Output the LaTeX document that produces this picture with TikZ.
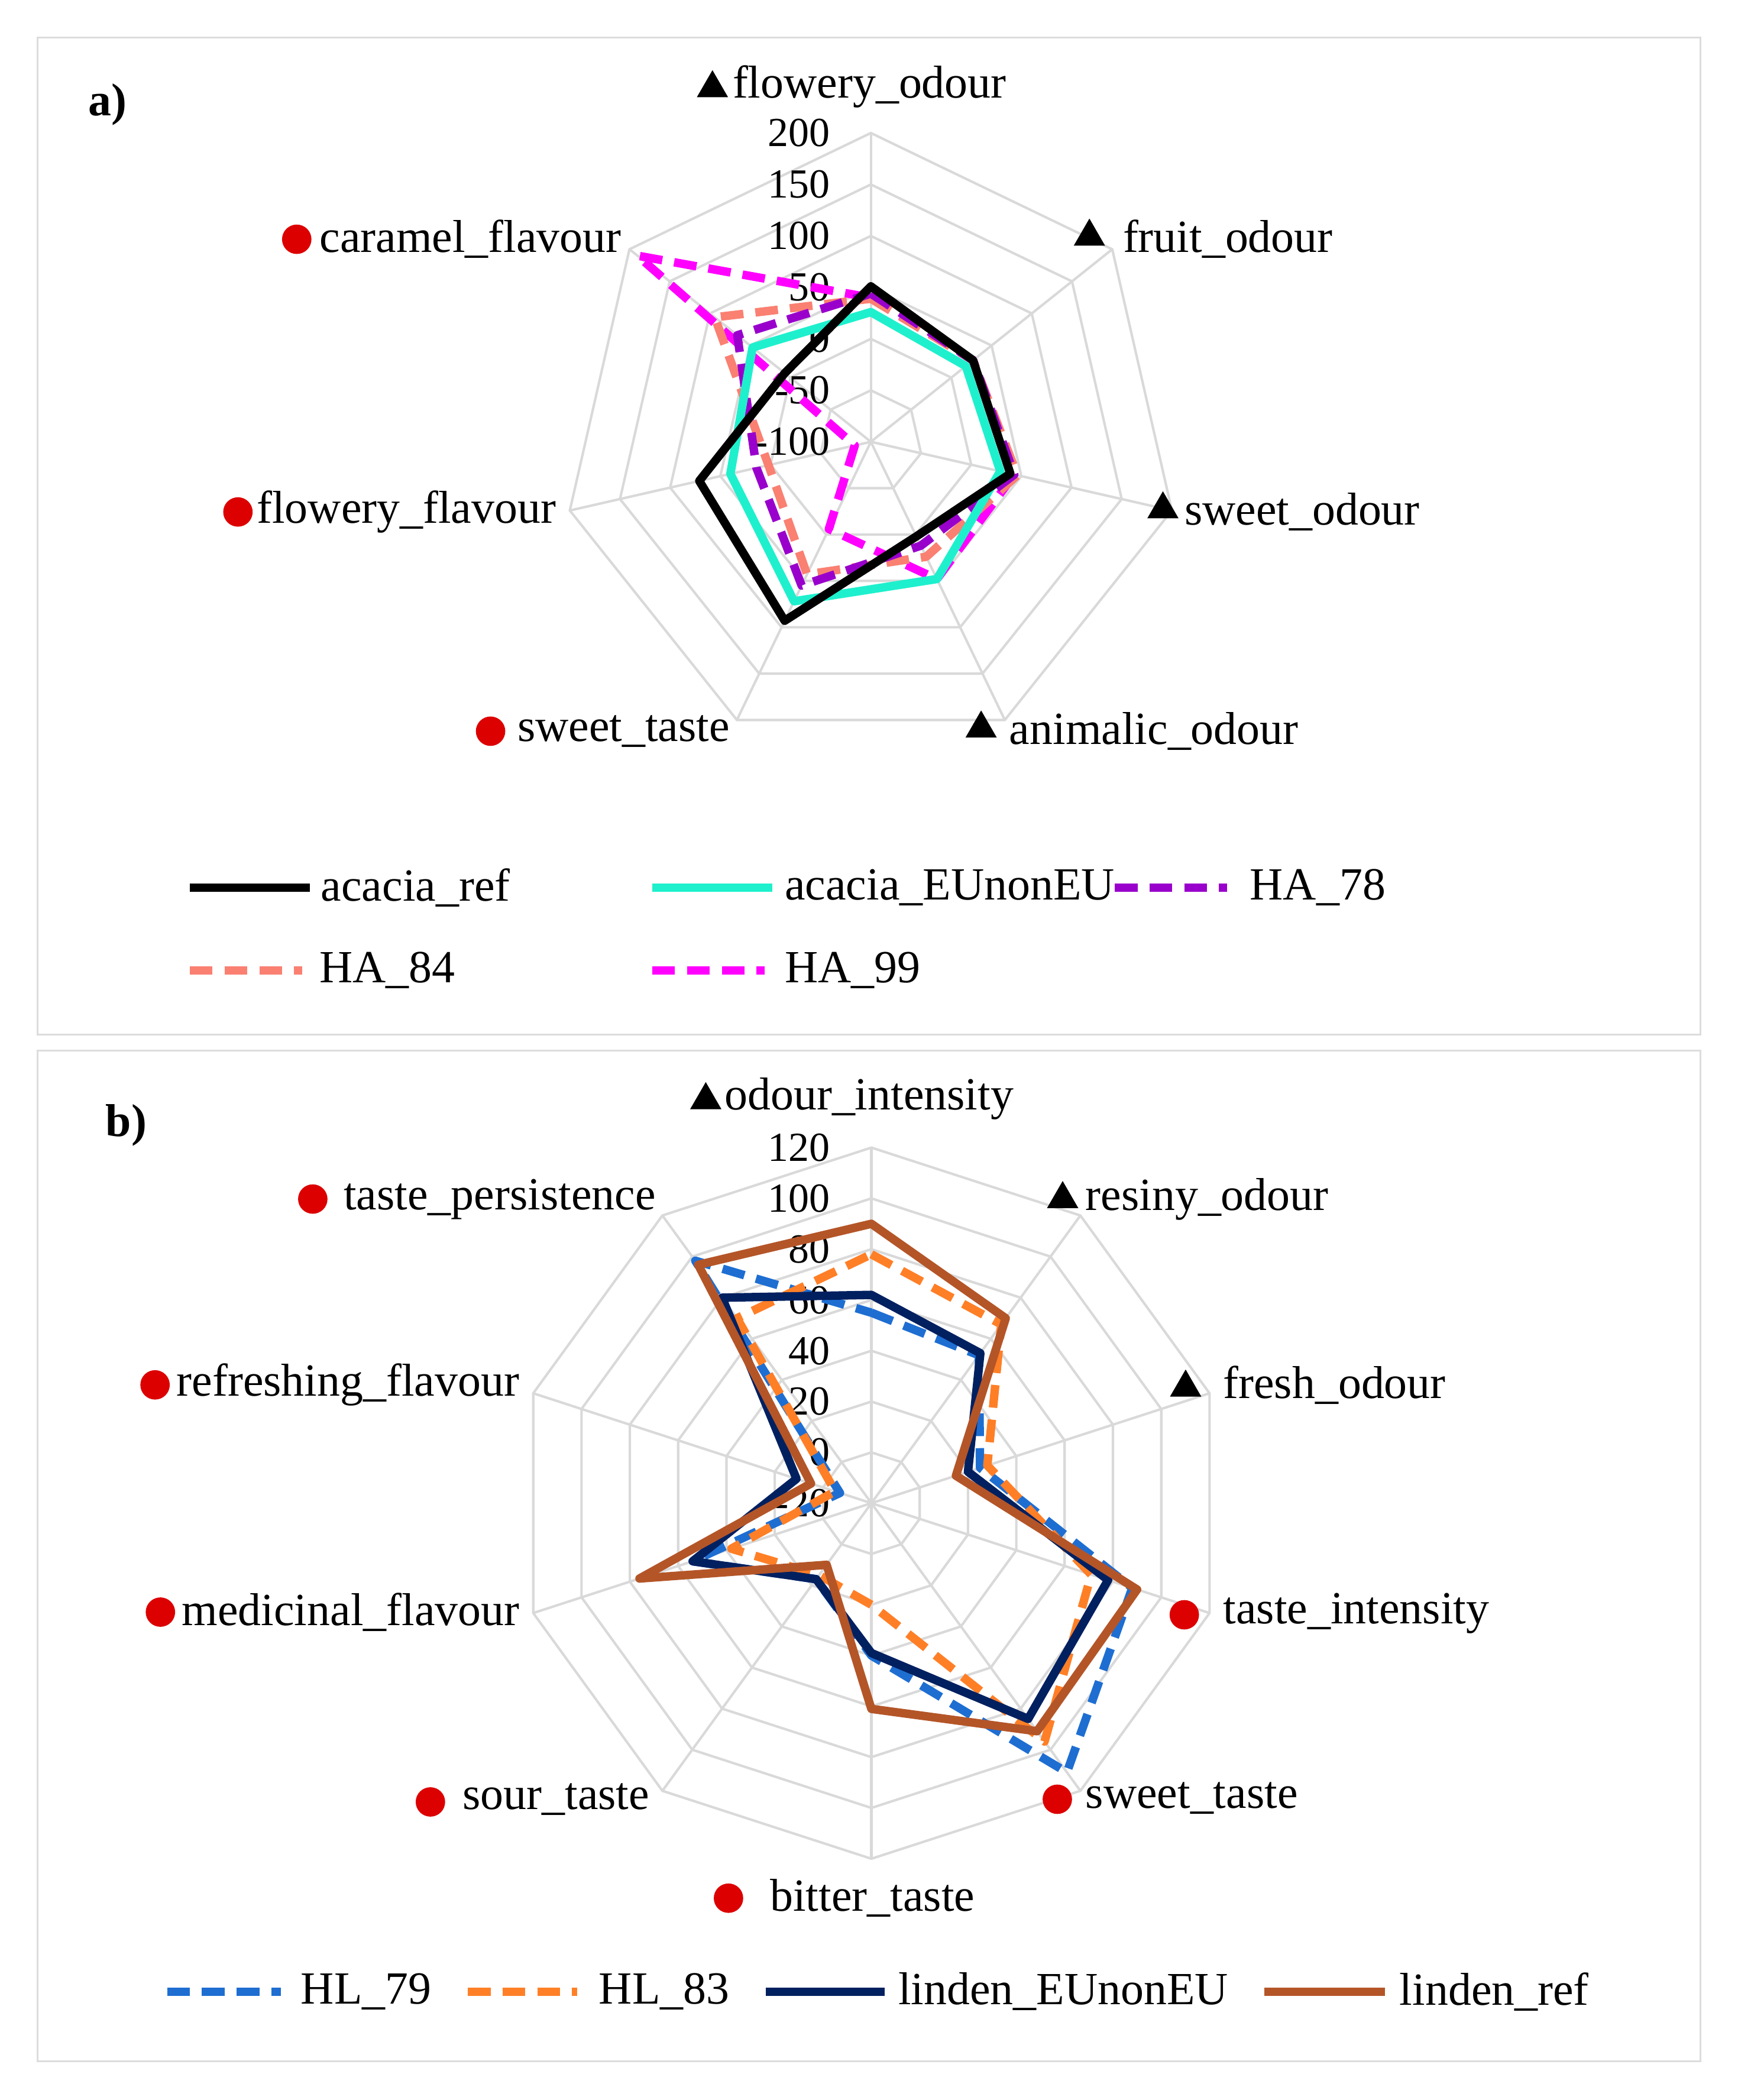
\documentclass[tikz,border=0pt]{standalone}
\usepackage{fontspec}
\setmainfont{Liberation Serif}
\usetikzlibrary{shapes.geometric}
\begin{document}
\begin{tikzpicture}[x=0.05cm,y=-0.05cm,
  lab/.style={font=\fontsize{49}{58}\selectfont,anchor=west,inner sep=0pt},
  num/.style={font=\fontsize{44}{52}\selectfont,anchor=east,inner sep=0pt},
  grid/.style={draw={rgb,255:red,217;green,217;blue,217},line width=2.6pt},
  frame/.style={draw={rgb,255:red,220;green,220;blue,220},line width=2pt},
  tri/.style={fill=black,regular polygon,regular polygon sides=3,minimum size=1.35cm,inner sep=0pt},
  dot/.style={fill={rgb,255:red,220;green,0;blue,0},circle,minimum size=1.1cm,inner sep=0pt},
  ser/.style={line width=9pt,line join=round},
  dsh/.style={ser,dash pattern=on 0.85cm off 0.45cm},
  cref/.style={ser,draw=black},
  ceu/.style={ser,draw={rgb,255:red,30;green,240;blue,205}},
  c78/.style={dsh,draw={rgb,255:red,153;green,0;blue,204}},
  c84/.style={dsh,draw={rgb,255:red,250;green,128;blue,114}},
  c99/.style={dsh,draw={rgb,255:red,255;green,0;blue,255}},
  c79/.style={dsh,draw={rgb,255:red,30;green,110;blue,210}},
  c83/.style={dsh,draw={rgb,255:red,255;green,127;blue,39}},
  cnv/.style={ser,draw={rgb,255:red,0;green,32;blue,96}},
  cbr/.style={ser,draw={rgb,255:red,180;green,85;blue,40}},
]
\useasboundingbox (0,0) rectangle (1300,1571);
\fill[white] (0,0) rectangle (1300,1571);
\draw[frame] (28,28) rectangle (1272,774);
\draw[frame] (28,786) rectangle (1272,1542);
\node[lab,font=\fontsize{49}{58}\selectfont\bfseries] (pa) at (66,78) {a)};
\node[lab,font=\fontsize{49}{58}\selectfont\bfseries] (pb) at (79,842) {b)};

% ---------- panel a grid
\foreach \k in {1,...,6}{
  \draw[grid] plot[samples at={0,...,6}] ({651.5+38.5*\k*sin(\x*360/7)},{330.5-38.5*\k*cos(\x*360/7)}) -- cycle;}
\foreach \i in {0,...,6}{\draw[grid] (651.5,330.5) -- ({651.5+231*sin(\i*360/7)},{330.5-231*cos(\i*360/7)});}
\foreach \v in {200,150,100,50,0,-50,-100}{\node[num] at (621,{330.5-(\v+100)*0.77}) {\v};}

\newcommand\seriesA[2]{\foreach \v [count=\i from 0] in {#2}{\coordinate (q\i) at ({651.5+(\v+100)*0.77*sin(\i*360/7)},{330.5-(\v+100)*0.77*cos(\i*360/7)});}
  \draw[#1] (q0)--(q1)--(q2)--(q3)--(q4)--(q5)--(q6)--cycle;}
\seriesA{c99}{40,27,43,48,-6,-84,190}
\seriesA{c84}{39,27,46,24,43,2,94}
\seriesA{c78}{44,27,43,12,55,14,66}
\seriesA{ceu}{26,18,29,48,72,40,47}
\seriesA{cref}{51,27,39,2,93,71,7}

% panel a axis labels
\node[tri] (ta1) at (533,66) {}; \node[lab] (la1) at (548,65) {flowery\_odour};
\node[tri] (ta2) at (815,177) {}; \node[lab] (la2) at (840,179) {fruit\_odour};
\node[tri] (ta3) at (870,381) {}; \node[lab] (la3) at (886,383) {sweet\_odour};
\node[tri] (ta4) at (734,545) {}; \node[lab] (la4) at (755,547) {animalic\_odour};
\node[dot] (da5) at (367,547) {}; \node[lab] (la5) at (387,547) {sweet\_taste};
\node[dot] (da6) at (178,383) {}; \node[lab] (la6) at (192,383) {flowery\_flavour};
\node[dot] (da7) at (222,179) {}; \node[lab] (la7) at (239,179) {caramel\_flavour};

% panel a legend
\coordinate (a1s) at (142,664); \coordinate (a1e) at (232,664); \draw[cref] (a1s)--(a1e); \node[lab] (ga1) at (240,664) {acacia\_ref};
\coordinate (a2s) at (488,664); \coordinate (a2e) at (578,664); \draw[ceu] (a2s)--(a2e); \node[lab] (ga2) at (587,664) {acacia\_EUnonEU};
\coordinate (a3s) at (834,664); \coordinate (a3e) at (918,664); \draw[c78] (a3s)--(a3e); \node[lab] (ga3) at (935,664) {HA\_78};
\coordinate (a4s) at (142,726); \coordinate (a4e) at (226,726); \draw[c84] (a4s)--(a4e); \node[lab] (ga4) at (239,726) {HA\_84};
\coordinate (a5s) at (488,726); \coordinate (a5e) at (572,726); \draw[c99] (a5s)--(a5e); \node[lab] (ga5) at (587,726) {HA\_99};

% ---------- panel b grid
\foreach \k in {1,...,7}{
  \draw[grid] plot[samples at={0,...,9}] ({651.9+38*\k*sin(\x*36)},{1124.5-38*\k*cos(\x*36)}) -- cycle;}
\foreach \i in {0,...,9}{\draw[grid] (651.9,1124.5) -- ({651.9+266*sin(\i*36)},{1124.5-266*cos(\i*36)});}
\foreach \v in {120,100,80,60,40,20,0,-20}{\node[num] at (621,{1124.5-(\v+20)*1.9}) {\v};}

\newcommand\seriesB[2]{\foreach \v [count=\i from 0] in {#2}{\coordinate (p\i) at ({651.9+(\v+20)*1.9*sin(\i*36)},{1124.5-(\v+20)*1.9*cos(\i*36)});}
  \draw[#1] (p0)--(p1)--(p2)--(p3)--(p4)--(p5)--(p6)--(p7)--(p8)--(p9)--cycle;}
\seriesB{c79}{55,52,25,88,111,40,17,54,-7,98}
\seriesB{c83}{78,67,28,71,96,20,15,38,-5,70}
\seriesB{cnv}{62,53,20,78,85,39,17,54,11,80}
\seriesB{cbr}{90,70,15,90,91,61,10,76,5,96}

% panel b axis labels
\node[tri] (tb1) at (528,823) {}; \node[lab] (lb1) at (542,822) {odour\_intensity};
\node[tri] (tb2) at (795,897) {}; \node[lab] (lb2) at (812,897) {resiny\_odour};
\node[tri] (tb3) at (887,1038) {}; \node[lab] (lb3) at (915,1036) {fresh\_odour};
\node[dot] (db4) at (886,1208) {}; \node[lab] (lb4) at (915,1207) {taste\_intensity};
\node[dot] (db5) at (791,1346) {}; \node[lab] (lb5) at (812,1345) {sweet\_taste};
\node[dot] (db6) at (545,1420) {}; \node[lab] (lb6) at (576,1420) {bitter\_taste};
\node[dot] (db7) at (322,1348) {}; \node[lab] (lb7) at (346,1346) {sour\_taste};
\node[dot] (db8) at (120,1206) {}; \node[lab] (lb8) at (136,1206) {medicinal\_flavour};
\node[dot] (db9) at (116,1036) {}; \node[lab] (lb9) at (132,1036) {refreshing\_flavour};
\node[dot] (db10) at (234,897) {}; \node[lab] (lb10) at (257,897) {taste\_persistence};

% panel b legend
\coordinate (b1s) at (125,1490); \coordinate (b1e) at (210,1490); \draw[c79] (b1s)--(b1e); \node[lab] (gb1) at (225,1490) {HL\_79};
\coordinate (b2s) at (350,1490); \coordinate (b2e) at (432,1490); \draw[c83] (b2s)--(b2e); \node[lab] (gb2) at (448,1490) {HL\_83};
\coordinate (b3s) at (573,1490); \coordinate (b3e) at (662,1490); \draw[cnv] (b3s)--(b3e); \node[lab] (gb3) at (672,1490) {linden\_EUnonEU};
\coordinate (b4s) at (946,1490); \coordinate (b4e) at (1036,1490); \draw[cbr] (b4s)--(b4e); \node[lab] (gb4) at (1047,1490) {linden\_ref};
\end{tikzpicture}
\end{document}
